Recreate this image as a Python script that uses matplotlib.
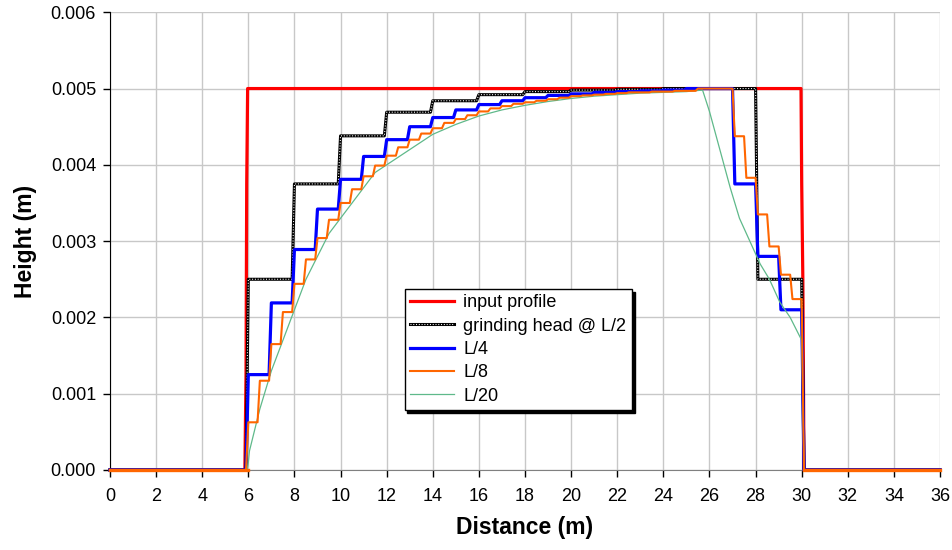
import numpy as np
import matplotlib
matplotlib.use("Agg")
import matplotlib.pyplot as plt
from matplotlib.ticker import FormatStrFormatter

plt.rcParams['font.family'] = ['Liberation Sans', 'DejaVu Sans']

# input profile
red_x = [0, 5.85, 5.9, 5.93, 5.97, 29.97, 30.0, 30.05, 30.1, 36]
red_y = [0, 0, 0.00125, 0.00375, 0.005, 0.005, 0.00375, 0.0025, 0, 0]

# grinding head @ L/2 : step edges and the level after each edge
l2_edges = [6, 8, 10, 12, 14, 16, 18, 20, 22, 24, 28, 30]
l2_vals = [0.0025, 0.00375, 0.00438, 0.00469, 0.00484, 0.00492, 0.00496,
           0.00498, 0.00499, 0.005, 0.0025, 0]

# L/4
l4_edges = list(range(6, 26)) + [27, 28, 29, 30]
l4_vals = [0.00125, 0.00219, 0.00289, 0.00342, 0.00381, 0.00411, 0.00433,
           0.00450, 0.00462, 0.00472, 0.00479, 0.00484, 0.00488, 0.00491,
           0.00493, 0.00495, 0.00496, 0.00497, 0.00498, 0.005,
           0.00375, 0.0028, 0.0021, 0]

# L/8
l8_edges = list(np.arange(6, 26, 0.5)) + [27, 27.5, 28, 28.5, 29, 29.5, 30]
l8_vals = [0.000625, 0.00117, 0.00165, 0.00207, 0.00244, 0.00276, 0.00304,
           0.00328, 0.00350, 0.00368, 0.00385, 0.00399, 0.00412, 0.00423,
           0.00433, 0.00441, 0.00448, 0.00455, 0.00460, 0.00465, 0.00470,
           0.00474, 0.00477, 0.00480, 0.00482, 0.00484, 0.00486, 0.00488,
           0.00490, 0.00491, 0.00492, 0.00493, 0.00494, 0.00495, 0.00495,
           0.00496, 0.00496, 0.00497, 0.00497, 0.005,
           0.004375, 0.00383, 0.00335, 0.00293, 0.00256, 0.00224, 0]

# L/20 (fine steps, read as a curve)
l20_x = [0, 5.95, 6.0, 6.05, 6.5, 7, 7.5, 8, 8.5, 9, 9.5, 10, 10.5, 11, 11.5,
         12, 13, 14, 15, 16, 17, 18, 19, 20, 21, 22, 23, 24, 25, 25.7,
         26.0, 26.45, 26.9, 27.3, 27.75, 28.2, 28.6, 29.05, 29.5, 30.0,
         30.1, 36]
l20_y = [0, 0, 0.0001, 0.00025, 0.0008, 0.0013, 0.0017, 0.0021, 0.0025,
         0.0028, 0.0031, 0.0033, 0.0035, 0.0037, 0.0039, 0.0040, 0.0042,
         0.0044, 0.00453, 0.00464, 0.00472, 0.00478, 0.00483, 0.00487,
         0.0049, 0.00492, 0.00494, 0.00495, 0.00496, 0.00498,
         0.0047, 0.0042, 0.0037, 0.0033, 0.0030, 0.0027, 0.0025, 0.0022,
         0.0020, 0.0017, 0, 0]


def stairs(edges, vals, ramp=0.1, x_end=36):
    xs, ys = [0], [0]
    prev = 0
    for e, v in zip(edges, vals):
        if v >= prev:
            xs += [e - ramp, e]
        else:
            xs += [e, e + ramp]
        ys += [prev, v]
        prev = v
    xs.append(x_end)
    ys.append(prev)
    return xs, ys


fig = plt.figure(figsize=(9.53, 5.5), dpi=100)
ax = fig.add_axes([0.1154, 0.1455, 0.871, 0.8322])

ax.grid(True, color='#c8c8c8', linewidth=1.0)
ax.set_axisbelow(True)

h_red, = ax.plot(red_x, red_y, color='#ff0000', lw=2.3, clip_on=False, zorder=3)

x2, y2 = stairs(l2_edges, l2_vals)
h_l2a, = ax.plot(x2, y2, color='black', lw=2.2, clip_on=False, zorder=3)
h_l2b, = ax.plot(x2, y2, color='white', lw=0.8, dashes=(0.9, 1.6),
                 clip_on=False, zorder=3)

x4, y4 = stairs(l4_edges, l4_vals)
h_l4, = ax.plot(x4, y4, color='#0000ff', lw=2.3, clip_on=False, zorder=3)

h_l20, = ax.plot(l20_x, l20_y, color='#5fb98a', lw=0.9, clip_on=False, zorder=3)

x8, y8 = stairs(l8_edges, l8_vals)
h_l8, = ax.plot(x8, y8, color='#ff6600', lw=1.5, clip_on=False, zorder=3)

# orange sits on top along the zero line in the original
ax.plot([0, 6], [0, 0], color='#ff6600', lw=2.4, clip_on=False, zorder=3)
ax.plot([30.1, 36], [0, 0], color='#ff6600', lw=2.4, clip_on=False, zorder=3)

ax.set_xlim(0, 36)
ax.set_ylim(0, 0.006)
ax.set_xticks(np.arange(0, 37, 2))
ax.set_yticks(np.arange(0, 0.0061, 0.001))
ax.yaxis.set_major_formatter(FormatStrFormatter('%.3f'))

for s in ['top', 'right']:
    ax.spines[s].set_visible(False)
ax.spines['left'].set_color('black')
ax.spines['bottom'].set_color('#808080')
ax.tick_params(axis='both', direction='out', length=5, width=1, colors='black',
               labelsize=13)
ax.tick_params(axis='x', pad=8)
ax.tick_params(axis='y', pad=5)

ax.set_xlabel('Distance (m)', fontsize=16.5, fontweight='bold', labelpad=8)
ax.set_ylabel('Height (m)', fontsize=16.5, fontweight='bold', labelpad=10)

leg = ax.legend([h_red, (h_l2a, h_l2b), h_l4, h_l8, h_l20],
                ['input profile', 'grinding head @ L/2', 'L/4', 'L/8', 'L/20'],
                loc='lower left', bbox_to_anchor=(0.355, 0.131),
                borderaxespad=0, fontsize=13, frameon=True, fancybox=False,
                edgecolor='black', framealpha=1, handlelength=2.45,
                handletextpad=0.5, labelspacing=0.35, borderpad=0.3,
                shadow={'color': 'black', 'alpha': 1, 'ox': 2, 'oy': -2})
leg.get_frame().set_linewidth(1.0)
leg.set_zorder(6)

fig.savefig('out.png', dpi=100)
